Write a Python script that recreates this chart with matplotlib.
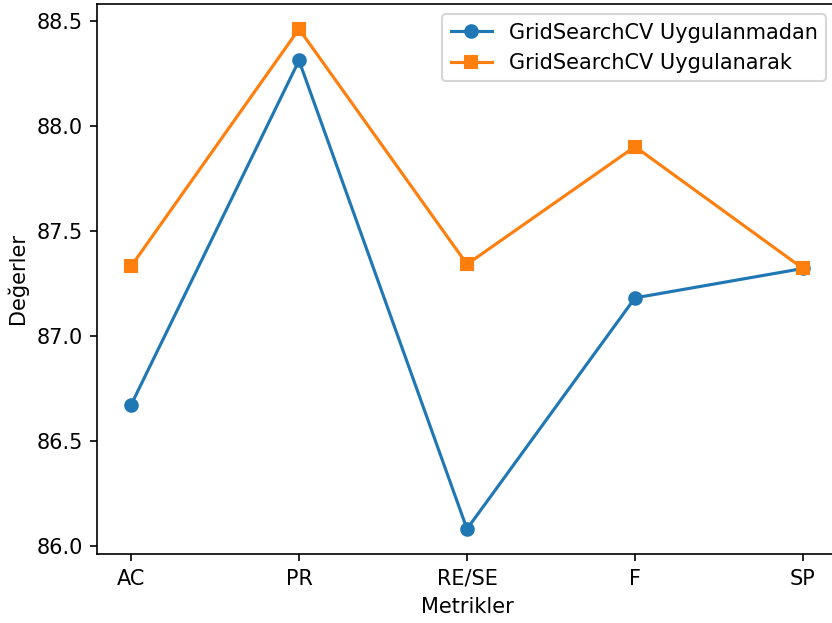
import matplotlib
matplotlib.use("Agg")
import matplotlib.pyplot as plt

metrics = ["AC", "PR", "RE/SE", "F", "SP"]
without_gs = [86.67, 88.31, 86.08, 87.18, 87.32]
with_gs = [87.33, 88.46, 87.34, 87.90, 87.32]

dpi = 150
fig, ax = plt.subplots(figsize=(832 / dpi, 623 / dpi), dpi=dpi)
# the original image is cropped slightly past the right spine
fig.subplots_adjust(left=0.1171, right=1.0055, top=0.9936, bottom=0.1108)

ax.plot(metrics, without_gs, marker="o", label="GridSearchCV Uygulanmadan")
ax.plot(metrics, with_gs, marker="s", label="GridSearchCV Uygulanarak")
ax.set_xlabel("Metrikler")
ax.set_ylabel("Değerler")
ax.legend(loc="upper right")

fig.savefig("out.png", dpi=dpi)
